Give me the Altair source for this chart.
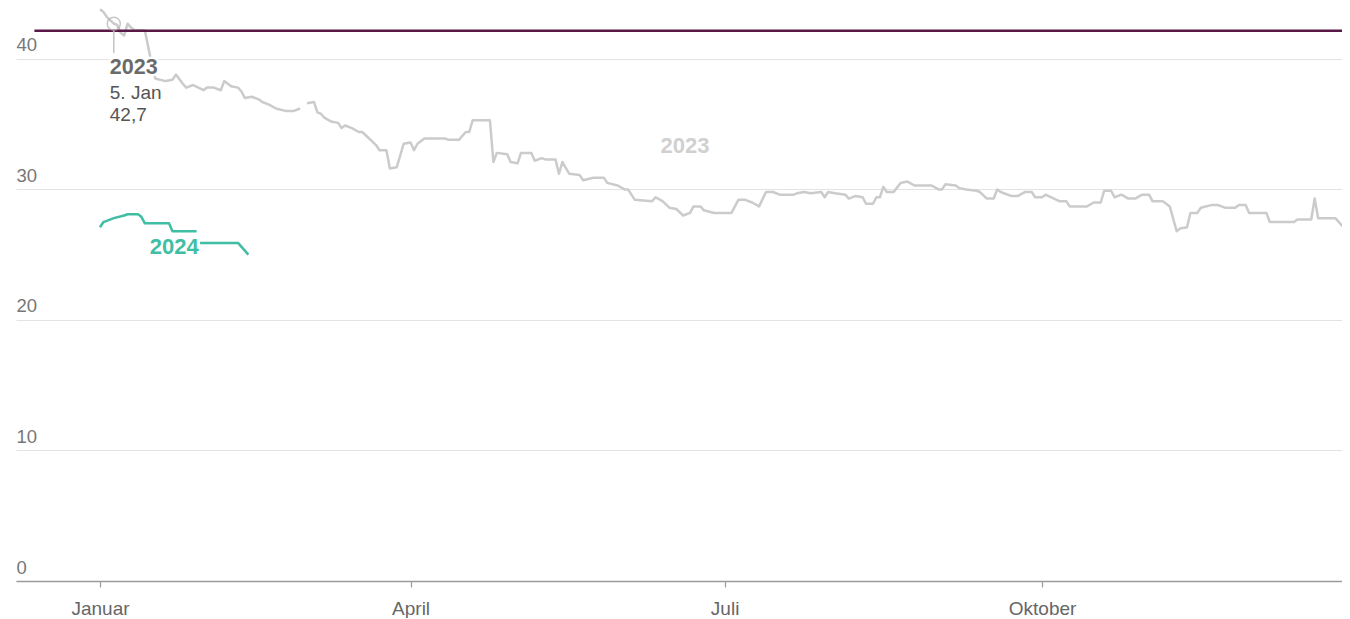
import altair as alt
import pandas as pd

# ---------------- data ----------------
dates_2023_a = ["2023-01-01", "2023-01-02", "2023-01-03", "2023-01-05", "2023-01-06", "2023-01-07",
                "2023-01-08", "2023-01-09", "2023-01-10", "2023-01-11", "2023-01-14", "2023-01-15",
                "2023-01-16", "2023-01-17", "2023-01-20", "2023-01-22", "2023-01-23", "2023-01-25",
                "2023-01-26", "2023-01-28", "2023-01-31", "2023-02-01", "2023-02-03", "2023-02-05",
                "2023-02-06", "2023-02-08", "2023-02-10", "2023-02-11", "2023-02-12", "2023-02-14",
                "2023-02-16", "2023-02-17", "2023-02-19", "2023-02-21", "2023-02-24", "2023-02-26",
                "2023-02-28"]
values_2023_a = [43.8, 43.6, 43.2, 42.7, 42.6, 42.0,
                 41.8, 42.7, 42.4, 42.2, 42.2, 40.9,
                 39.6, 38.5, 38.3, 38.4, 38.8, 38.1,
                 37.8, 38.0, 37.6, 37.8, 37.8, 37.6,
                 38.3, 37.9, 37.8, 37.5, 37.0, 37.1,
                 36.9, 36.7, 36.5, 36.2, 36.0, 36.0,
                 36.2]

dates_2023_b = ["2023-03-02", "2023-03-04", "2023-03-05", "2023-03-06", "2023-03-07", "2023-03-09",
                "2023-03-11", "2023-03-12", "2023-03-13", "2023-03-15", "2023-03-17", "2023-03-18",
                "2023-03-20", "2023-03-22", "2023-03-23", "2023-03-25", "2023-03-26", "2023-03-28",
                "2023-03-30", "2023-04-01", "2023-04-02", "2023-04-03", "2023-04-05", "2023-04-11",
                "2023-04-12", "2023-04-15", "2023-04-17", "2023-04-18", "2023-04-19", "2023-04-24",
                "2023-04-25", "2023-04-26", "2023-04-29", "2023-04-30", "2023-05-02", "2023-05-03",
                "2023-05-06", "2023-05-07", "2023-05-09", "2023-05-10", "2023-05-13", "2023-05-14",
                "2023-05-15", "2023-05-17", "2023-05-20", "2023-05-21", "2023-05-24", "2023-05-27",
                "2023-05-28", "2023-05-31", "2023-06-02", "2023-06-03", "2023-06-05", "2023-06-10",
                "2023-06-11", "2023-06-13", "2023-06-15", "2023-06-17", "2023-06-19", "2023-06-21",
                "2023-06-22", "2023-06-24", "2023-06-25", "2023-06-28", "2023-07-03", "2023-07-05",
                "2023-07-07", "2023-07-09", "2023-07-11", "2023-07-13", "2023-07-15", "2023-07-17",
                "2023-07-21", "2023-07-22", "2023-07-24", "2023-07-26", "2023-07-29", "2023-07-30",
                "2023-07-31", "2023-08-02", "2023-08-05", "2023-08-06", "2023-08-08", "2023-08-10",
                "2023-08-11", "2023-08-13", "2023-08-14", "2023-08-15", "2023-08-16", "2023-08-17",
                "2023-08-19", "2023-08-21", "2023-08-23", "2023-08-25", "2023-08-28", "2023-08-30",
                "2023-09-01", "2023-09-02", "2023-09-03", "2023-09-06", "2023-09-07", "2023-09-09",
                "2023-09-12", "2023-09-13", "2023-09-15", "2023-09-17", "2023-09-18", "2023-09-19",
                "2023-09-22", "2023-09-24", "2023-09-26", "2023-09-28", "2023-09-29", "2023-10-01",
                "2023-10-02", "2023-10-06", "2023-10-08", "2023-10-09", "2023-10-14", "2023-10-16",
                "2023-10-18", "2023-10-19", "2023-10-21", "2023-10-22", "2023-10-24", "2023-10-26",
                "2023-10-28", "2023-10-30", "2023-11-01", "2023-11-02", "2023-11-05", "2023-11-07",
                "2023-11-09", "2023-11-10", "2023-11-12", "2023-11-13", "2023-11-15", "2023-11-16",
                "2023-11-19", "2023-11-21", "2023-11-23", "2023-11-26", "2023-11-27", "2023-11-29",
                "2023-11-30", "2023-12-05", "2023-12-06", "2023-12-13", "2023-12-14", "2023-12-18",
                "2023-12-19", "2023-12-20", "2023-12-25", "2023-12-27", "2023-12-29"]
values_2023_b = [36.6, 36.7, 35.9, 35.8, 35.5, 35.2,
                 35.1, 34.7, 34.9, 34.7, 34.4, 34.4,
                 33.9, 33.4, 33.0, 33.0, 31.6, 31.7,
                 33.5, 33.6, 33.0, 33.5, 33.9, 33.9,
                 33.8, 33.8, 34.4, 34.4, 35.3, 35.3,
                 32.1, 32.8, 32.7, 32.1, 32.0, 32.8,
                 32.8, 32.2, 32.4, 32.3, 32.3, 31.2,
                 32.1, 31.2, 31.1, 30.7, 30.9, 30.9,
                 30.5, 30.3, 30.0, 30.0, 29.2, 29.1,
                 29.4, 29.1, 28.6, 28.5, 28.0, 28.2,
                 28.7, 28.7, 28.4, 28.2, 28.2, 29.2,
                 29.2, 29.0, 28.7, 29.8, 29.8, 29.6,
                 29.6, 29.7, 29.8, 29.7, 29.8, 29.4,
                 29.8, 29.7, 29.6, 29.3, 29.5, 29.4,
                 28.9, 28.9, 29.4, 29.4, 30.2, 29.8,
                 29.8, 30.5, 30.6, 30.3, 30.3, 30.3,
                 30.0, 30.0, 30.4, 30.3, 30.1, 30.0,
                 29.9, 29.8, 29.3, 29.3, 30.0, 29.8,
                 29.5, 29.5, 29.8, 29.8, 29.4, 29.4,
                 29.6, 29.1, 29.1, 28.7, 28.7, 29.0,
                 29.0, 29.9, 29.9, 29.4, 29.6, 29.3,
                 29.3, 29.6, 29.6, 29.1, 29.1, 28.7,
                 26.8, 27.0, 27.1, 28.2, 28.2, 28.6,
                 28.8, 28.8, 28.6, 28.6, 28.8, 28.8,
                 28.2, 28.2, 27.5, 27.5, 27.7, 27.7,
                 29.3, 27.8, 27.8, 27.2, 27.2]

dates_2024_a = ["2024-01-01", "2024-01-02", "2024-01-05", "2024-01-08", "2024-01-09", "2024-01-12",
                "2024-01-13", "2024-01-14", "2024-01-21", "2024-01-22", "2024-01-29"]
values_2024_a = [27.1, 27.5, 27.8, 28.0, 28.1, 28.1,
                 27.9, 27.4, 27.4, 26.8, 26.8]
dates_2024_b = ["2024-01-30", "2024-02-10", "2024-02-13"]
values_2024_b = [25.9, 25.9, 25.0]

reference_value = 42.15
reference_span = ["2022-12-13T00:00", "2023-12-29T04:00"]

annotation_date = "2023-01-05"
annotation_value = 42.7
annotation_lines = ["2023", "5. Jan", "42,7"]

series_labels = ["2023", "2024"]
series_label_dates = ["2023-06-19T12:00", "2023-01-22T12:00"]
series_label_values = [33.3, 25.6]

month_names = ["Januar", "Februar", "März", "April", "Mai", "Juni", "Juli",
               "August", "September", "Oktober", "November", "Dezember"]
x_tick_months = [1, 4, 7, 10]
y_ticks = [0, 10, 20, 30, 40]

# ---------------- styles ----------------
FONT = "Liberation Sans"
GRAY_LINE = "#cbcbcb"
TEAL = "#3fbea4"
PURPLE = "#5a1846"


def frame(dates, values, seg, to_2023=False):
    d = pd.to_datetime(pd.Series(dates))
    if to_2023:
        d = d.map(lambda t: t.replace(year=2023))
    return pd.DataFrame({"date": d, "value": values, "seg": seg})


df23 = pd.concat([frame(dates_2023_a, values_2023_a, "a"),
                  frame(dates_2023_b, values_2023_b, "b")], ignore_index=True)
df24 = pd.concat([frame(dates_2024_a, values_2024_a, "a", True),
                  frame(dates_2024_b, values_2024_b, "b", True)], ignore_index=True)

ref_df = pd.DataFrame({"date": [pd.Timestamp(reference_span[0])],
                       "date2": [pd.Timestamp(reference_span[1])],
                       "value": [reference_value]})
ann_df = pd.DataFrame({"date": [pd.Timestamp(annotation_date)],
                       "value": [annotation_value],
                       "top": [annotation_value - 0.55],
                       "bottom": [annotation_value - 2.25]})
lab_df = pd.DataFrame({"date": pd.to_datetime(series_label_dates),
                       "value": series_label_values,
                       "label": series_labels})

label_expr = "[" + ",".join("'%s'" % m for m in month_names) + "][month(datum.value)]"

# plot spans page x 16..1342 : Jan 1 sits at x=100, 3.45 px per day
x_scale = alt.Scale(domain=[alt.DateTime(year=2022, month=12, date=7, hours=15, minutes=50),
                            alt.DateTime(year=2023, month=12, date=26, hours=22, minutes=0)])
y_scale = alt.Scale(domain=[0, 43.9], nice=False)

x_axis = alt.Axis(title=None, values=[alt.DateTime(year=2023, month=m, date=1) for m in x_tick_months],
                  labelExpr=label_expr, grid=False, domainColor="#9a9a9a", domainWidth=1.5,
                  tickColor="#9a9a9a", tickSize=6, tickWidth=1.2, labelFont=FONT, labelFontSize=19,
                  labelColor="#666666", labelBaseline="alphabetic", labelPadding=27, labelAlign="center")
y_axis = alt.Axis(title=None, values=y_ticks, grid=True, gridColor="#e3e3e3", gridWidth=1,
                  domain=False, ticks=False, tickSize=0, labelAlign="left", labelBaseline="alphabetic",
                  labelPadding=0, labelOffset=-8, labelFont=FONT, labelFontSize=18.5, labelColor="#777777")

X = alt.X("date:T", scale=x_scale, axis=x_axis)
Y = alt.Y("value:Q", scale=y_scale, axis=y_axis)

line23 = alt.Chart(df23).mark_line(color=GRAY_LINE, strokeWidth=2.5, strokeJoin="round",
                                   clip=True).encode(x=X, y=Y, detail="seg:N")
line24 = alt.Chart(df24).mark_line(color=TEAL, strokeWidth=2.5, strokeJoin="round").encode(
    x=X, y=Y, detail="seg:N")
ref_rule = alt.Chart(ref_df).mark_rule(color=PURPLE, strokeWidth=2.5, clip=True).encode(
    x=X, x2="date2:T", y=Y)

ann_rule = alt.Chart(ann_df).mark_rule(color="#c4c4c4", strokeWidth=1.5).encode(
    x=X, y=alt.Y("top:Q", scale=y_scale, axis=y_axis), y2="bottom:Q")
ann_circle = alt.Chart(ann_df).mark_point(shape="circle", filled=False, size=170,
                                          stroke="#b0b0b0", strokeWidth=1.5).encode(x=X, y=Y)

ann_halo = alt.Chart(ann_df).mark_text(align="left", baseline="alphabetic", dx=-4, dy=50,
                                       font=FONT, fontSize=21.5, fontWeight="bold",
                                       color="white", stroke="white", strokeWidth=5).encode(
    x=X, y=Y, text=alt.value(annotation_lines[0]))
ann_t1 = alt.Chart(ann_df).mark_text(align="left", baseline="alphabetic", dx=-4, dy=50,
                                     font=FONT, fontSize=21.5, fontWeight="bold",
                                     color="#6a6a6a").encode(
    x=X, y=Y, text=alt.value(annotation_lines[0]))
ann_t2 = alt.Chart(ann_df).mark_text(align="left", baseline="alphabetic", dx=-4, dy=75,
                                     font=FONT, fontSize=19, color="#555555").encode(
    x=X, y=Y, text=alt.value(annotation_lines[1]))
ann_t3 = alt.Chart(ann_df).mark_text(align="left", baseline="alphabetic", dx=-4, dy=97,
                                     font=FONT, fontSize=19, color="#555555").encode(
    x=X, y=Y, text=alt.value(annotation_lines[2]))

series_text = alt.Chart(lab_df).mark_text(align="center", baseline="middle", font=FONT,
                                          fontSize=22, fontWeight="bold").encode(
    x=X, y=Y, text="label:N",
    color=alt.Color("label:N", scale=alt.Scale(domain=series_labels, range=["#d0d0d0", TEAL]),
                    legend=None))

chart = alt.layer(line23, line24, ref_rule, ann_rule, ann_circle, ann_halo,
                  ann_t1, ann_t2, ann_t3, series_text).properties(
    width=1326, height=573,
    padding={"left": 8, "top": 0, "right": 0, "bottom": 0},
    background="white",
).configure_view(strokeWidth=0)

chart.save("out.html", embed_options={"renderer": "svg", "actions": False})
